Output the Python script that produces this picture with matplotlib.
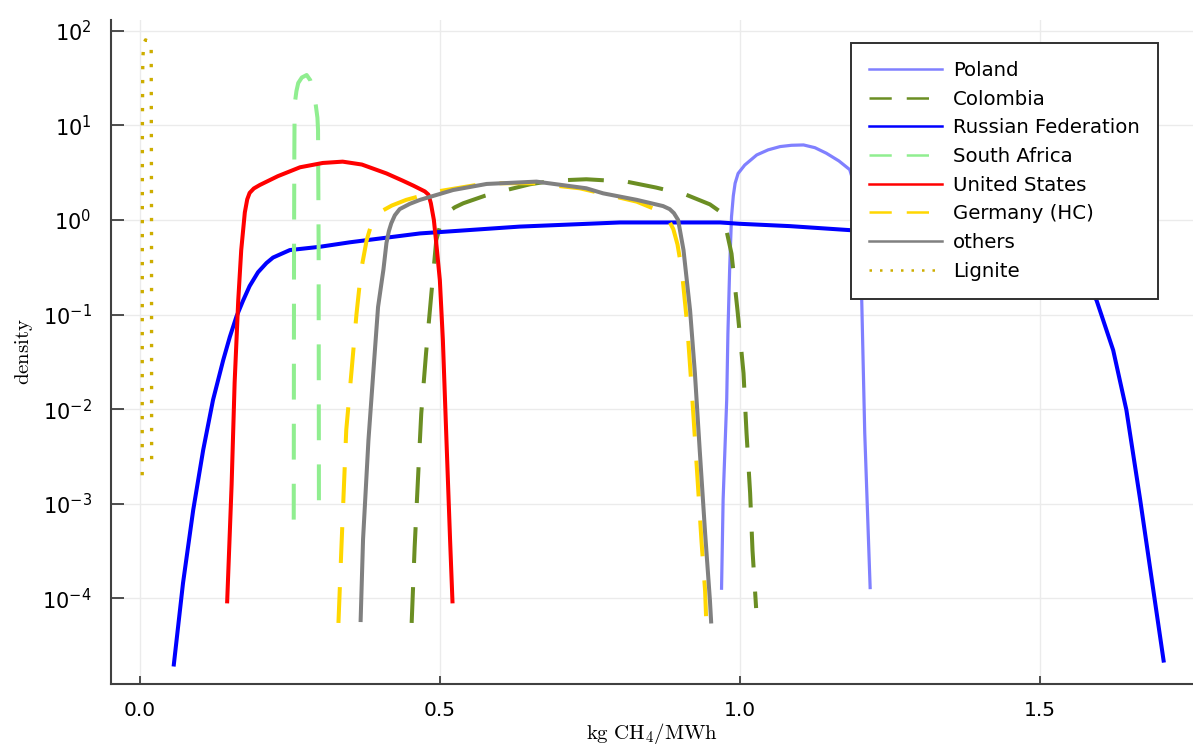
import numpy as np
import matplotlib
matplotlib.use("Agg")
import matplotlib.pyplot as plt
from matplotlib.ticker import LogFormatterSciNotation, NullLocator

# --- data (x in kg CH4/MWh, y = density) ---
poland_x = [0.9694, 0.972, 0.978, 0.980, 0.983, 0.986, 0.989, 0.992, 0.997, 1.008,
            1.028, 1.047, 1.067, 1.086, 1.106, 1.125, 1.144, 1.165, 1.183, 1.192,
            1.198, 1.203, 1.208, 1.217]
poland_y = [1.28e-4, 1.1e-3, 0.0126, 0.063, 0.32, 1.08, 1.8, 2.44, 3.1, 3.8,
            4.86, 5.5, 5.96, 6.15, 6.2, 5.8, 5.07, 4.2, 3.4, 2.2,
            0.8, 0.14, 5.6e-3, 1.3e-4]

colombia_x = [0.453, 0.458, 0.464, 0.469, 0.477, 0.486, 0.494, 0.502, 0.511, 0.525,
              0.539, 0.575, 0.611, 0.65, 0.689, 0.744, 0.811, 0.86, 0.911, 0.95,
              0.965, 0.975, 0.986, 0.996, 1.006, 1.011, 1.017, 1.021, 1.027]
colombia_y = [5.5e-5, 3.5e-4, 2.1e-3, 9e-3, 0.039, 0.17, 0.61, 0.95, 1.18, 1.36,
              1.5, 1.8, 2.07, 2.38, 2.6, 2.69, 2.54, 2.2, 1.84, 1.46,
              1.25, 0.92, 0.44, 0.11, 0.024, 5.6e-3, 1.3e-3, 3.2e-4, 7.9e-5]

russia_x = [0.0567, 0.072, 0.089, 0.1056, 0.122, 0.139, 0.15, 0.161, 0.172, 0.183,
            0.197, 0.211, 0.222, 0.233, 0.25, 0.3, 0.35, 0.467, 0.633, 0.8, 0.9,
            0.967, 1.0, 1.083, 1.183, 1.3, 1.4, 1.48, 1.53, 1.565, 1.594, 1.622,
            1.644, 1.667, 1.683, 1.706]
russia_y = [2e-5, 1.45e-4, 8.6e-4, 3.7e-3, 0.0125, 0.033, 0.058, 0.095, 0.14, 0.2,
            0.28, 0.35, 0.40, 0.43, 0.48, 0.52, 0.58, 0.72, 0.85, 0.94, 0.94,
            0.94, 0.91, 0.86, 0.78, 0.66, 0.54, 0.42, 0.33, 0.25, 0.143, 0.042,
            0.0098, 1.1e-3, 2.2e-4, 2.2e-5]

safrica_x = [0.2565, 0.2567, 0.257, 0.2575, 0.258, 0.261, 0.264, 0.270, 0.278, 0.284,
             0.2917, 0.296, 0.297, 0.298, 0.2985]
safrica_y = [6.8e-4, 0.01, 0.5, 5, 16.5, 23, 28, 32, 34, 30,
             19.4, 12, 8.9, 0.5, 6.8e-4]

us_x = [0.1456, 0.153, 0.158, 0.164, 0.169, 0.175, 0.179, 0.183, 0.19, 0.2, 0.23,
        0.267, 0.305, 0.338, 0.37, 0.411, 0.438, 0.456, 0.475, 0.481, 0.485, 0.49,
        0.494, 0.5, 0.505, 0.511, 0.517, 0.521]
us_y = [9.3e-5, 1.6e-3, 0.019, 0.14, 0.48, 1.2, 1.65, 1.93, 2.15, 2.34, 2.9,
        3.6, 4.0, 4.13, 3.85, 3.1, 2.6, 2.3, 2.0, 1.85, 1.5, 1.0,
        0.57, 0.23, 0.054, 4.7e-3, 4.2e-4, 9.3e-5]

germany_x = [0.331, 0.336, 0.344, 0.353, 0.361, 0.369, 0.378, 0.387, 0.397, 0.42,
             0.444, 0.494, 0.578, 0.656, 0.733, 0.828, 0.872, 0.881, 0.889, 0.896,
             0.903, 0.912, 0.920, 0.928, 0.936, 0.942, 0.944]
germany_y = [5.5e-5, 3.5e-4, 6e-3, 0.026, 0.10, 0.3, 0.61, 0.95, 1.18, 1.42,
             1.63, 1.99, 2.44, 2.44, 2.16, 1.56, 1.2, 1.0, 0.8, 0.55,
             0.3, 0.08, 0.015, 2.5e-3, 4e-4, 1.2e-4, 5.5e-5]

others_x = [0.368, 0.372, 0.381, 0.389, 0.397, 0.402, 0.406, 0.411, 0.415, 0.419,
            0.425, 0.433, 0.45, 0.467, 0.522, 0.578, 0.661, 0.744, 0.772, 0.828,
            0.872, 0.883, 0.89, 0.897, 0.906, 0.917, 0.925, 0.933, 0.942, 0.95, 0.952]
others_y = [5.9e-5, 4.2e-4, 4.7e-3, 0.024, 0.12, 0.2, 0.3, 0.57, 0.76, 0.92,
            1.12, 1.3, 1.48, 1.63, 2.07, 2.4, 2.54, 2.16, 1.91, 1.63,
            1.4, 1.3, 1.18, 1.0, 0.48, 0.11, 0.024, 3.7e-3, 4.9e-4, 9.6e-5, 5.7e-5]

lignite_x = [0.0040, 0.0041, 0.0043, 0.0050, 0.0065, 0.0095, 0.0130, 0.0165,
             0.0190, 0.0195, 0.0197]
lignite_y = [0.002, 0.1, 10, 50, 72, 80, 78, 72, 65, 1, 0.0023]

xticks = [0.0, 0.5, 1.0, 1.5]
xticklabels = ["0.0", "0.5", "1.0", "1.5"]
yticks = [1e-4, 1e-3, 1e-2, 1e-1, 1e0, 1e1, 1e2]

dash = (0, (8.9, 6.0))
dot = (0, (1.0, 3.2))
series = [
    ("Poland", poland_x, poland_y, "#8080ff", "-", 2.3),
    ("Colombia", colombia_x, colombia_y, "#6b8e23", dash, 2.9),
    ("Russian Federation", russia_x, russia_y, "#0000ff", "-", 2.9),
    ("South Africa", safrica_x, safrica_y, "#90ee90", dash, 2.9),
    ("United States", us_x, us_y, "#ff0000", "-", 2.9),
    ("Germany (HC)", germany_x, germany_y, "#ffd700", dash, 2.9),
    ("others", others_x, others_y, "#808080", "-", 2.9),
    ("Lignite", lignite_x, lignite_y, "#cdad00", dot, 2.4),
]

fig = plt.figure(figsize=(11.93, 7.54), dpi=100)
ax = fig.add_axes([111 / 1193, 70 / 754, 1082 / 1193, 664 / 754])

for name, xs, ys, col, ls, lw in series:
    ax.plot(xs, ys, color=col, linestyle=ls, linewidth=lw, label=name,
            solid_joinstyle="round", dash_capstyle="butt")

ax.set_yscale("log")
ax.set_xlim(-0.048, 1.755)
ax.set_ylim(10 ** -4.905, 10 ** 2.113)
ax.set_yticks(yticks)
ax.yaxis.set_major_formatter(LogFormatterSciNotation(base=10))
ax.yaxis.set_minor_locator(NullLocator())
ax.set_xticks(xticks)
ax.set_xticklabels(xticklabels)

ax.grid(True, color="#ebebeb", linewidth=1.0)
ax.set_axisbelow(True)
for s in ["top", "right"]:
    ax.spines[s].set_visible(False)
for s in ["left", "bottom"]:
    ax.spines[s].set_color("#404040")
    ax.spines[s].set_linewidth(1.5)

ax.tick_params(axis="y", direction="in", length=9, width=1.3, color="#404040",
               labelsize=15, pad=14)
ax.tick_params(axis="x", direction="in", length=6, width=1.3, color="#404040",
               labelsize=14.5, pad=12)

ax.set_xlabel(r"$\mathrm{kg\ CH_4/MWh}$", fontsize=15, math_fontfamily="cm",
              labelpad=1)
ax.set_ylabel(r"$\mathrm{density}$", fontsize=15, math_fontfamily="cm", labelpad=5)

leg = ax.legend(loc="upper right", bbox_to_anchor=(0.968, 0.966), borderaxespad=0,
                fontsize=14.2, handlelength=3.7, handletextpad=0.55, labelspacing=0.49,
                borderpad=0.93, fancybox=False, framealpha=1, edgecolor="#303030")
leg.get_frame().set_linewidth(1.4)
for h in leg.get_lines():
    h.set_linewidth(1.8)

fig.savefig("out.png", dpi=100)
